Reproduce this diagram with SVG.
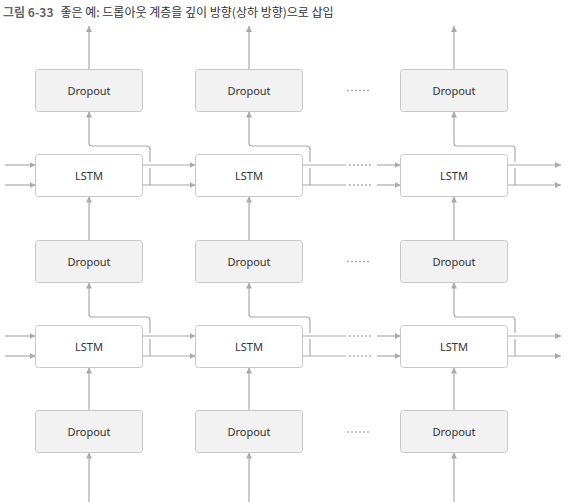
<svg xmlns="http://www.w3.org/2000/svg" width="572" height="502" viewBox="0 0 572 502">
<style>
.title{font-family:"Noto Sans CJK KR","Noto Sans",sans-serif;font-size:12px;fill:#333}
.tnum{font-weight:bold;fill:#666}
.box{stroke:#c8c8c8;stroke-width:1}
.drop{fill:#f2f2f2}
.lstm{fill:#ffffff}
.lbl{font-family:"Noto Sans","Liberation Sans",sans-serif;font-size:11px;fill:#333;text-anchor:middle}
.ln{fill:none;stroke:#aaaaaa;stroke-width:1.2}
.ar{marker-end:url(#ah)}
.dot{fill:none;stroke:#b0b0b0;stroke-width:1.4;stroke-dasharray:2 2}
</style>
<defs>
<marker id="ah" viewBox="0 0 10 10" refX="10" refY="5" markerWidth="6" markerHeight="6" markerUnits="userSpaceOnUse" orient="auto">
<path d="M0,0 L10,5 L0,10 z" fill="#aaaaaa"/>
</marker>
</defs>
<rect width="572" height="502" fill="#ffffff"/>
<text class="title" x="3" y="17"><tspan class="tnum">그림 6-33</tspan><tspan dx="7">좋은 예: 드롭아웃 계층을 깊이 방향(상하 방향)으로 삽입</tspan></text>

<g id="connectors">
<path class="ln ar" d="M89,69.5 V26"/>
<path class="ln ar" d="M249,69.5 V26"/>
<path class="ln ar" d="M454,69.5 V26"/>
<path class="ln ar" d="M150,185 V168 M150,162 V149 Q150,146 147,146 H92 Q89,146 89,143 V111.5"/>
<path class="ln ar" d="M310,185 V168 M310,162 V149 Q310,146 307,146 H252 Q249,146 249,143 V111.5"/>
<path class="ln ar" d="M515,185 V168 M515,162 V149 Q515,146 512,146 H457 Q454,146 454,143 V111.5"/>
<path class="ln ar" d="M150,356 V339 M150,333 V320 Q150,317 147,317 H92 Q89,317 89,314 V282.5"/>
<path class="ln ar" d="M310,356 V339 M310,333 V320 Q310,317 307,317 H252 Q249,317 249,314 V282.5"/>
<path class="ln ar" d="M515,356 V339 M515,333 V320 Q515,317 512,317 H457 Q454,317 454,314 V282.5"/>
<path class="ln ar" d="M89,240.5 V196.5"/>
<path class="ln ar" d="M249,240.5 V196.5"/>
<path class="ln ar" d="M454,240.5 V196.5"/>
<path class="ln ar" d="M89,410.5 V367.5"/>
<path class="ln ar" d="M249,410.5 V367.5"/>
<path class="ln ar" d="M454,410.5 V367.5"/>
<path class="ln ar" d="M89,502 V452.5"/>
<path class="ln ar" d="M249,502 V452.5"/>
<path class="ln ar" d="M454,502 V452.5"/>
<path class="ln ar" d="M5,165 H35.5"/>
<path class="ln ar" d="M5,185 H35.5"/>
<path class="ln ar" d="M142.5,165 H195.5"/>
<path class="ln ar" d="M142.5,185 H195.5"/>
<path class="ln" d="M302.5,165 H346 M302.5,185 H346"/>
<path class="dot" d="M349,165 H373 M349,185 H373"/>
<path class="ln ar" d="M377,165 H400.5"/>
<path class="ln ar" d="M377,185 H400.5"/>
<path class="ln ar" d="M507.5,165 H561"/>
<path class="ln ar" d="M507.5,185 H561"/>
<path class="ln ar" d="M5,336 H35.5"/>
<path class="ln ar" d="M5,356 H35.5"/>
<path class="ln ar" d="M142.5,336 H195.5"/>
<path class="ln ar" d="M142.5,356 H195.5"/>
<path class="ln" d="M302.5,336 H346 M302.5,356 H346"/>
<path class="dot" d="M349,336 H373 M349,356 H373"/>
<path class="ln ar" d="M377,336 H400.5"/>
<path class="ln ar" d="M377,356 H400.5"/>
<path class="ln ar" d="M507.5,336 H561"/>
<path class="ln ar" d="M507.5,356 H561"/>
<path class="dot" d="M347,90.5 H371 M347,261.5 H371 M347,432 H371"/>
</g>

<g id="drop1a"><rect class="box drop" x="35.5" y="69.5" width="107" height="42" rx="3"/><text class="lbl" x="89" y="94.5">Dropout</text></g>
<g id="drop1b"><rect class="box drop" x="195.5" y="69.5" width="107" height="42" rx="3"/><text class="lbl" x="249" y="94.5">Dropout</text></g>
<g id="drop1c"><rect class="box drop" x="400.5" y="69.5" width="107" height="42" rx="3"/><text class="lbl" x="454" y="94.5">Dropout</text></g>

<g id="lstm1a"><rect class="box lstm" x="35.5" y="154.5" width="107" height="42" rx="3"/><text class="lbl" x="89" y="179.5">LSTM</text></g>
<g id="lstm1b"><rect class="box lstm" x="195.5" y="154.5" width="107" height="42" rx="3"/><text class="lbl" x="249" y="179.5">LSTM</text></g>
<g id="lstm1c"><rect class="box lstm" x="400.5" y="154.5" width="107" height="42" rx="3"/><text class="lbl" x="454" y="179.5">LSTM</text></g>

<g id="drop2a"><rect class="box drop" x="35.5" y="240.5" width="107" height="42" rx="3"/><text class="lbl" x="89" y="265.5">Dropout</text></g>
<g id="drop2b"><rect class="box drop" x="195.5" y="240.5" width="107" height="42" rx="3"/><text class="lbl" x="249" y="265.5">Dropout</text></g>
<g id="drop2c"><rect class="box drop" x="400.5" y="240.5" width="107" height="42" rx="3"/><text class="lbl" x="454" y="265.5">Dropout</text></g>

<g id="lstm2a"><rect class="box lstm" x="35.5" y="325.5" width="107" height="42" rx="3"/><text class="lbl" x="89" y="350.5">LSTM</text></g>
<g id="lstm2b"><rect class="box lstm" x="195.5" y="325.5" width="107" height="42" rx="3"/><text class="lbl" x="249" y="350.5">LSTM</text></g>
<g id="lstm2c"><rect class="box lstm" x="400.5" y="325.5" width="107" height="42" rx="3"/><text class="lbl" x="454" y="350.5">LSTM</text></g>

<g id="drop3a"><rect class="box drop" x="35.5" y="410.5" width="107" height="42" rx="3"/><text class="lbl" x="89" y="435.5">Dropout</text></g>
<g id="drop3b"><rect class="box drop" x="195.5" y="410.5" width="107" height="42" rx="3"/><text class="lbl" x="249" y="435.5">Dropout</text></g>
<g id="drop3c"><rect class="box drop" x="400.5" y="410.5" width="107" height="42" rx="3"/><text class="lbl" x="454" y="435.5">Dropout</text></g>
</svg>
